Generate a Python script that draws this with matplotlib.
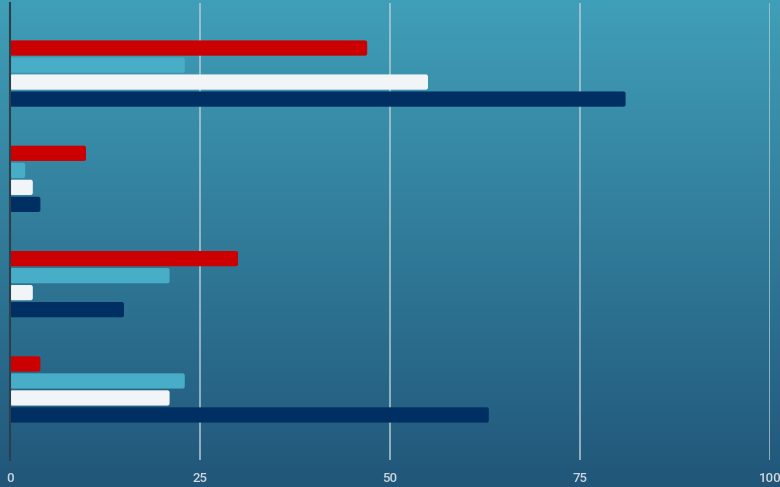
import numpy as np
import matplotlib as mpl
mpl.use('Agg')
import matplotlib.pyplot as plt
from matplotlib.patches import FancyBboxPatch

groups = ["A", "B", "C", "D"]
red_vals = [47, 10, 30, 4]
teal_vals = [23, 2, 21, 23]
white_vals = [55, 3, 3, 21]
navy_vals = [81, 4, 15, 63]
x_ticks = [0, 25, 50, 75, 100]

series = [
    (red_vals, "#cc0000"),
    (teal_vals, "#48adc6"),
    (white_vals, "#f1f5f8"),
    (navy_vals, "#002f63"),
]

fig = plt.figure(figsize=(7.8, 4.87), dpi=100)

# gradient background over the whole figure
bg = fig.add_axes([0, 0, 1, 1], zorder=-1)
top = np.array([64, 159, 184]) / 255.0
bot = np.array([33, 86, 121]) / 255.0
t = np.linspace(0, 1, 256)[:, None]
grad = top[None, :] * (1 - t) + bot[None, :] * t
bg.imshow(grad[:, None, :], aspect='auto', extent=[0, 1, 0, 1])
bg.axis('off')

ax = fig.add_axes([10 / 780, 27 / 487, 760 / 780, 457 / 487])
ax.set_facecolor('none')

y = np.arange(len(groups))
step = 0.1615
height = 0.145
for i, (vals, color) in enumerate(series):
    ypos = y + (i - 1.5) * step
    bars = ax.barh(ypos, vals, height=height, color=color)
    for b in bars:
        b.set_visible(False)
        p = FancyBboxPatch((b.get_x(), b.get_y()), b.get_width(), b.get_height(),
                           boxstyle="round,pad=0,rounding_size=0.3",
                           mutation_aspect=0.065,
                           facecolor=color, edgecolor='none', zorder=3)
        ax.add_patch(p)

ax.set_xlim(0, 100)
ax.set_ylim(3.67, -0.67)
ax.set_xticks(x_ticks)
ax.set_xticklabels([str(v) for v in x_ticks], color="#ccd7df", fontsize=9.5,
                   fontweight='medium', fontfamily=["Roboto", "DejaVu Sans"])
ax.tick_params(axis='x', length=0, pad=8.5)
ax.set_yticks([])
ax.grid(axis='x', color="#b9cdd6", linewidth=1.3, alpha=0.8, zorder=1)
ax.set_axisbelow(True)
for s in ["top", "right", "bottom"]:
    ax.spines[s].set_visible(False)
ax.spines["left"].set_color("#2b3f4c")
ax.spines["left"].set_linewidth(1.5)
ax.spines["left"].set_zorder(4)

plt.savefig("out.png", dpi=100)
